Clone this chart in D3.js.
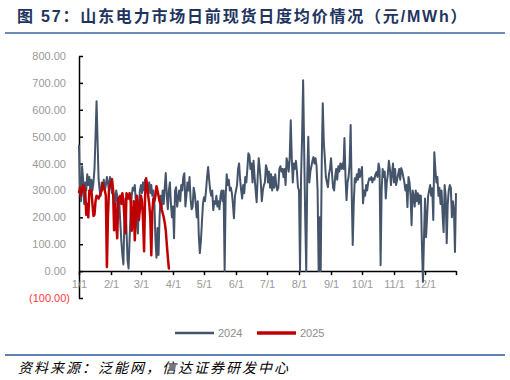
<!DOCTYPE html>
<meta charset="utf-8">
<body style="margin:0;background:#fff">
<div id="chart"></div>
<script src="https://d3js.org/d3.v7.min.js"></script>
<script>
// daily average day-ahead spot price, yuan/MWh
var jan24 = [470, 300, 260, 390, 340, 250, 330, 300, 360, 320, 350, 290, 340, 300, 330, 380, 500, 632, 480, 340, 300, 280, 330, 310, 340, 300, 320, 350, 330, 300, 350];
var feb24 = [320, 290, 300, 280, 240, 300, 280, 220, 260, 180, 110, 60, 25, 200, 270, 150, 40, 10, 120, 220, 280, 310, 300, 320, 260, 180, 140, 250, 300];
var mar24 = [320, 290, 330, 300, 340, 310, 320, 300, 330, 290, 320, 280, 300, 250, 120, 50, 160, 60, 200, 280, 230, 300, 250, 310, 365, 280, 230, 300, 330, 250, 200];
var apr24 = [240, 122, 300, 312, 240, 270, 300, 260, 320, 300, 350, 364, 240, 280, 330, 300, 350, 270, 230, 240, 310, 290, 250, 200, 260, 130, 67, 110, 180, 250];
var may24 = [275, 260, 300, 350, 387, 340, 300, 280, 300, 227, 260, 250, 280, 240, 260, 230, 280, 300, 260, 300, 0, 280, 360, 320, 340, 300, 310, 290, 250, 197, 280];
var jun24 = [300, 320, 380, 400, 340, 300, 270, 320, 290, 350, 330, 380, 438, 430, 380, 400, 330, 410, 350, 300, 256, 350, 420, 380, 330, 260, 300, 320, 330, 394];
var jul24 = [380, 330, 370, 310, 360, 300, 350, 310, 360, 320, 300, 310, 380, 390, 370, 380, 350, 380, 320, 420, 400, 370, 420, 561, 420, 330, 400, 380, 410, 370, 312];
var aug24 = [300, 0, 350, 500, 710, 450, 200, 0, 350, 500, 330, 370, 390, 410, 424, 400, 420, 390, 300, 0, 200, 0, 400, 624, 480, 420, 350, 330, 312, 360, 380];
var sep24 = [420, 360, 310, 300, 350, 380, 340, 390, 370, 400, 380, 400, 380, 495, 350, 264, 330, 350, 400, 543, 300, 97, 250, 345, 330, 360, 340, 380, 350, 370];
var oct24 = [387, 252, 300, 280, 320, 300, 330, 345, 340, 350, 330, 345, 340, 360, 368, 350, 400, 380, 22, 300, 380, 350, 370, 270, 330, 360, 410, 380, 320, 360, 400];
var nov24 = [330, 380, 320, 340, 360, 380, 340, 383, 370, 350, 330, 300, 320, 238, 350, 330, 280, 171, 300, 280, 240, 300, 260, 290, 250, 282, 280, 100, -40, 120];
var dec24 = [270, 126, 200, 280, 300, 320, 280, 308, 190, 442, 380, 330, 350, 280, 310, 250, 300, 210, 145, 320, 280, 104, 250, 300, 320, 310, 200, 260, 230, 71, 290];

var jan25 = [290, 310, 280, 300, 320, 310, 300, 210, 250, 200, 300, 290, 300, 250, 205, 210, 260, 280, 275, 270, 280, 290, 300, 327, 310, 300, 280, 15, 200, 300, 320];
var feb25 = [330, 342, 300, 152, 250, 180, 122, 270, 275, 280, 250, 290, 260, 200, 141, 290, 280, 270, 290, 260, 150, 197, 260, 115, 200, 280, 250, 190];
var mar25 = [280, 260, 190, 74, 280, 345, 320, 280, 250, 200, 59, 220, 270, 260, 280, 316, 300, 280, 260, 250, 230, 216, 200, 180, 152, 100, 52, 10, 8];

var yTicks = [-100, 0, 100, 200, 300, 400, 500, 600, 700, 800];
var seriesNames = ["2024", "2025"];
var colors = ["#44546A", "#C00000"];

// turn month arrays into {date, value}, all on the 2024 calendar so the years overlap
function toPoints(months) {
  var pts = [];
  months.forEach(function(arr, m) {
    arr.forEach(function(v, i) {
      pts.push({ date: new Date(2024, m, i + 1), value: v });
    });
  });
  return pts;
}
var s2024 = toPoints([jan24, feb24, mar24, apr24, may24, jun24, jul24, aug24, sep24, oct24, nov24, dec24]);
var s2025 = toPoints([jan25, feb25, mar25]);

var W = 510, H = 380;
var svg = d3.select("#chart").append("svg")
  .attr("width", W)
  .attr("height", H)
  .style("font-family", "'Liberation Sans', Arial, 'Noto Sans CJK SC', sans-serif");

// title + rule
svg.append("text")
  .attr("x", 17)
  .attr("y", 22)
  .attr("font-size", 16)
  .attr("font-weight", "bold")
  .attr("letter-spacing", 1.8)
  .attr("fill", "#1f3560")
  .style("font-family", "'Liberation Sans', 'Noto Sans CJK SC', sans-serif")
  .text("图 57：山东电力市场日前现货日度均价情况（元/MWh）");

svg.append("line")
  .attr("x1", 5).attr("x2", 505)
  .attr("y1", 33).attr("y2", 33)
  .attr("stroke", "#6b8cb8")
  .attr("stroke-width", 2);

var x = d3.scaleTime()
  .domain([new Date(2024, 0, 1), new Date(2024, 11, 31)])
  .range([79, 456]);

var y = d3.scaleLinear()
  .domain([-100, 800])
  .range([298, 56]);

var fmt = d3.format(".2f");

// Y axis
var yAxis = d3.axisLeft(y)
  .tickValues(yTicks)
  .tickSizeInner(-4)
  .tickSizeOuter(0)
  .tickPadding(13)
  .tickFormat(function(v) {
    return v < 0 ? "(" + fmt(-v) + ")" : fmt(v);
  });

var gy = svg.append("g")
  .attr("transform", "translate(79,0)")
  .call(yAxis);
gy.select(".domain").attr("stroke", "#000").attr("stroke-width", 1.5);
gy.selectAll(".tick line").attr("stroke", "#000").attr("stroke-width", 1.5);
gy.selectAll(".tick text")
  .attr("font-size", 11)
  .attr("fill", function(v) { return v < 0 ? "#ff3b3b" : "#999999"; })
  .attr("dx", function(v) { return v < 0 ? 4 : 0; })
  .style("font-family", "'Liberation Sans', Arial, sans-serif");

// X axis sits on zero
var monthTicks = d3.range(12).map(function(m) { return new Date(2024, m, 1); });
monthTicks.push(new Date(2024, 11, 31));

var xAxis = d3.axisBottom(x)
  .tickValues(monthTicks)
  .tickSizeInner(4)
  .tickSizeOuter(0)
  .tickPadding(5)
  .tickFormat(function(d) {
    return d.getDate() === 1 ? (d.getMonth() + 1) + "/1" : "";
  });

var gx = svg.append("g")
  .attr("transform", "translate(0," + y(0) + ")")
  .call(xAxis);
gx.select(".domain").attr("stroke", "#000").attr("stroke-width", 1.5);
gx.selectAll(".tick line").attr("stroke", "#000").attr("stroke-width", 1.5);
gx.selectAll(".tick text")
  .attr("font-size", 11)
  .attr("fill", "#999999")
  .style("font-family", "'Liberation Sans', Arial, sans-serif");

// lines
var line = d3.line()
  .x(function(d) { return x(d.date); })
  .y(function(d) { return y(d.value); });

svg.append("path")
  .datum(s2024)
  .attr("fill", "none")
  .attr("stroke", colors[0])
  .attr("stroke-width", 2)
  .attr("stroke-linejoin", "round")
  .attr("d", line);

svg.append("path")
  .datum(s2025)
  .attr("fill", "none")
  .attr("stroke", colors[1])
  .attr("stroke-width", 2.5)
  .attr("stroke-linejoin", "round")
  .attr("d", line);

// legend
var legendX = [175, 257];
var legend = svg.append("g");
seriesNames.forEach(function(name, i) {
  legend.append("line")
    .attr("x1", legendX[i]).attr("x2", legendX[i] + 39)
    .attr("y1", 333).attr("y2", 333)
    .attr("stroke", colors[i])
    .attr("stroke-width", i === 0 ? 2.5 : 3.5);
  legend.append("text")
    .attr("x", legendX[i] + 43)
    .attr("y", 337)
    .attr("font-size", 11)
    .attr("fill", "#8c8c8c")
    .text(name);
});

// footer
svg.append("line")
  .attr("x1", 5).attr("x2", 505)
  .attr("y1", 355).attr("y2", 355)
  .attr("stroke", "#5b82b3")
  .attr("stroke-width", 2);

svg.append("text")
  .attr("x", 18)
  .attr("y", 373)
  .attr("font-size", 14)
  .attr("letter-spacing", 2)
  .attr("font-style", "italic")
  .attr("fill", "#000")
  .style("font-family", "'Noto Sans CJK SC', sans-serif")
  .text("资料来源：泛能网，信达证券研发中心");
</script>
